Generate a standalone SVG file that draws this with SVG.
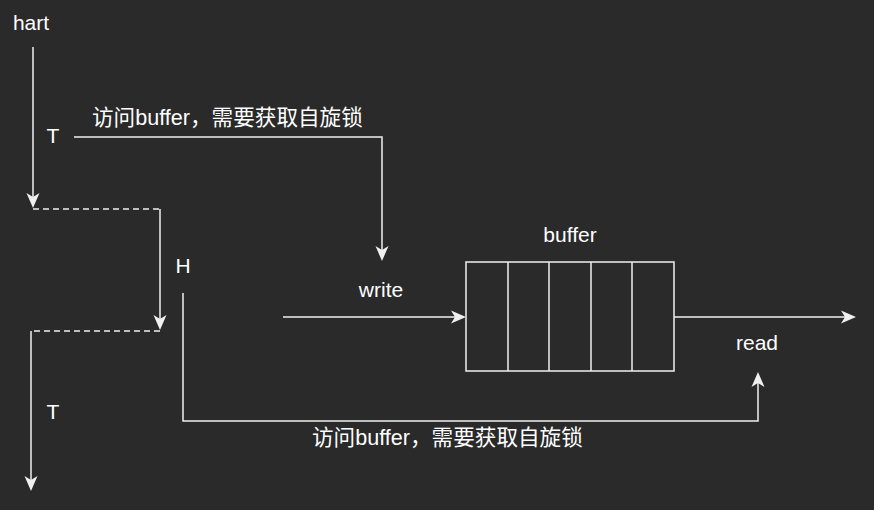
<svg xmlns="http://www.w3.org/2000/svg" width="874" height="510" viewBox="0 0 874 510">
<defs>
<style>
.ln{fill:none;stroke:#f0f0f0;stroke-width:1.5}
.dash{stroke-dasharray:6 4}
.t{fill:#ffffff;font-family:"Liberation Sans","Noto Sans CJK SC",Arial,sans-serif;font-size:21px}
.c{text-anchor:middle}
.zh{font-size:21.6px}
.box{fill:none;stroke:#f0f0f0;stroke-width:1.5}
</style>
<marker id="arr" markerUnits="userSpaceOnUse" markerWidth="16" markerHeight="14" refX="11" refY="6.5" orient="auto" viewBox="0 0 16 13">
<path d="M0,0 L15,6.5 L0,13 L4,6.5 Z" fill="#f0f0f0"/>
</marker>
</defs>
<rect width="874" height="510" fill="#2a2a2a"/>
<g id="connectors">
<path class="ln" d="M33,47 V204" marker-end="url(#arr)"/>
<path class="ln dash" d="M33,209 H160"/>
<path class="ln" d="M160,209 V326" marker-end="url(#arr)"/>
<path class="ln dash" d="M160,331 H31"/>
<path class="ln" d="M31,331 V487" marker-end="url(#arr)"/>
<path class="ln" d="M74,137 H382 V257" marker-end="url(#arr)"/>
<path class="ln" d="M283,317 H462" marker-end="url(#arr)"/>
<path class="ln" d="M674,317 H852" marker-end="url(#arr)"/>
<path class="ln" d="M183,293 V421 H758 V376" marker-end="url(#arr)"/>
</g>
<g id="buffer">
<rect class="box" x="466" y="262" width="208" height="109"/>
<path class="box" d="M508,262 V371 M549,262 V371 M591,262 V371 M632,262 V371"/>
<text class="t c" x="570" y="242">buffer</text>
</g>
<g id="hart"><text class="t c" x="31" y="30">hart</text></g>
<g id="t1"><text class="t c" x="53" y="143">T</text></g>
<g id="h"><text class="t c" x="183" y="273">H</text></g>
<g id="t2"><text class="t c" x="53" y="419">T</text></g>
<g id="write"><text class="t c" x="381" y="297">write</text></g>
<g id="read"><text class="t c" x="757" y="350">read</text></g>
<g id="label1"><text class="t zh" x="92" y="125">访问buffer，需要获取自旋锁</text></g>
<g id="label2"><text class="t zh" x="312" y="445">访问buffer，需要获取自旋锁</text></g>
</svg>
